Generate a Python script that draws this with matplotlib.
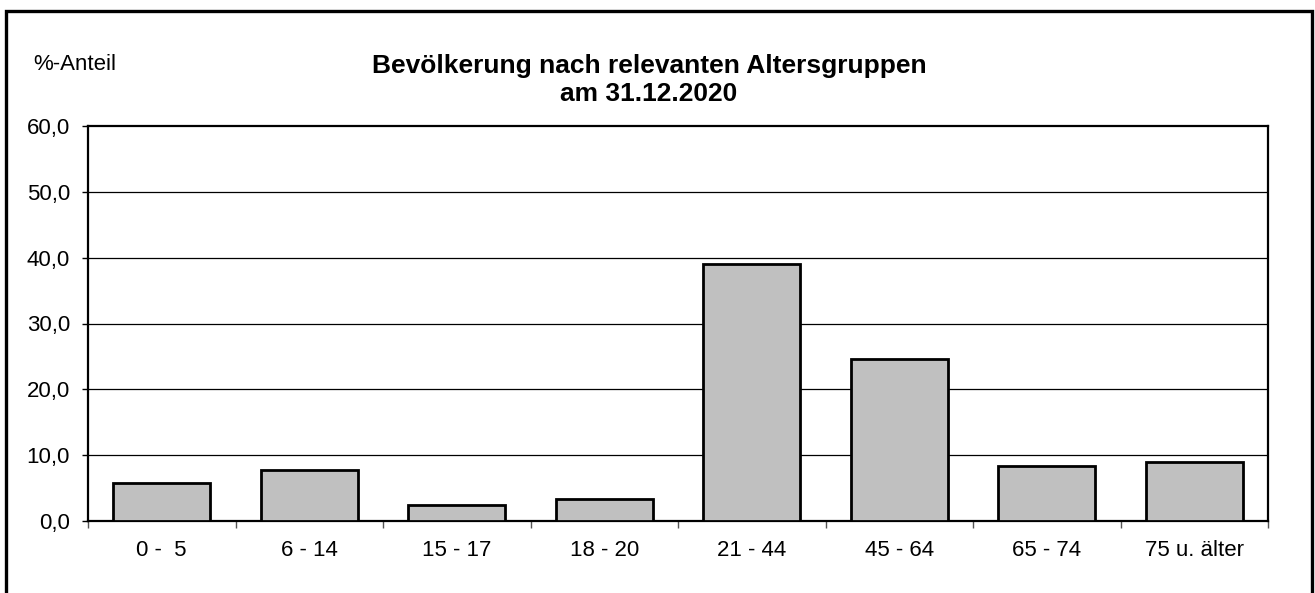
import matplotlib.pyplot as plt
from matplotlib.patches import Rectangle
import numpy as np

plt.rcParams['font.family'] = ['Liberation Sans', 'DejaVu Sans']

# Altersgruppen und Anteile in %
groups = ['0 -  5', '6 - 14', '15 - 17', '18 - 20', '21 - 44', '45 - 64', '65 - 74', '75 u. älter']
shares = [5.7, 7.8, 2.5, 3.3, 39.0, 24.6, 8.4, 8.9]
y_ticks = [0, 10, 20, 30, 40, 50, 60]

W, H = 1315, 593
fig = plt.figure(figsize=(W / 100, H / 100), dpi=100)
ax = fig.add_axes([88 / W, 1 - 521 / H, (1268 - 88) / W, (521 - 126) / H])

x = np.arange(len(groups))
ax.bar(x, shares, width=0.66, color='#c0c0c0', edgecolor='black', linewidth=2.0, zorder=3)

ax.set_xlim(-0.5, len(groups) - 0.5)
ax.set_ylim(0, 60)

# y axis
ax.set_yticks(y_ticks)
ax.set_yticklabels([f'{v:.1f}'.replace('.', ',') for v in y_ticks], fontsize=16)
ax.tick_params(axis='y', direction='out', length=4.5, width=1, pad=8.5)
for v in y_ticks[1:-1]:
    ax.axhline(v, color='black', linewidth=0.9, zorder=1)

# x axis: labels at centers, tick marks between groups
ax.set_xticks(x)
ax.set_xticklabels(groups, fontsize=16)
ax.tick_params(axis='x', which='major', length=0, pad=14)
ax.set_xticks(np.arange(-0.5, len(groups)), minor=True)
ax.tick_params(axis='x', which='minor', direction='out', length=5, width=1, color='#555555')

for s in ax.spines.values():
    s.set_linewidth(1.6)
    s.set_color('black')

fig.text(33 / W, 1 - 64 / H, '%-Anteil', fontsize=16, va='center', ha='left')
fig.text(649 / W, 1 - 80 / H, 'Bevölkerung nach relevanten Altersgruppen\nam 31.12.2020',
         fontsize=19, fontweight='bold', ha='center', va='center', linespacing=1.24)

# outer frame
fig.patches.append(Rectangle((6 / W, -0.05), (1312 - 6) / W, 1.05 - 11 / H,
                             transform=fig.transFigure, fill=False,
                             edgecolor='black', linewidth=2.4))

fig.savefig('out.png', dpi=100)
